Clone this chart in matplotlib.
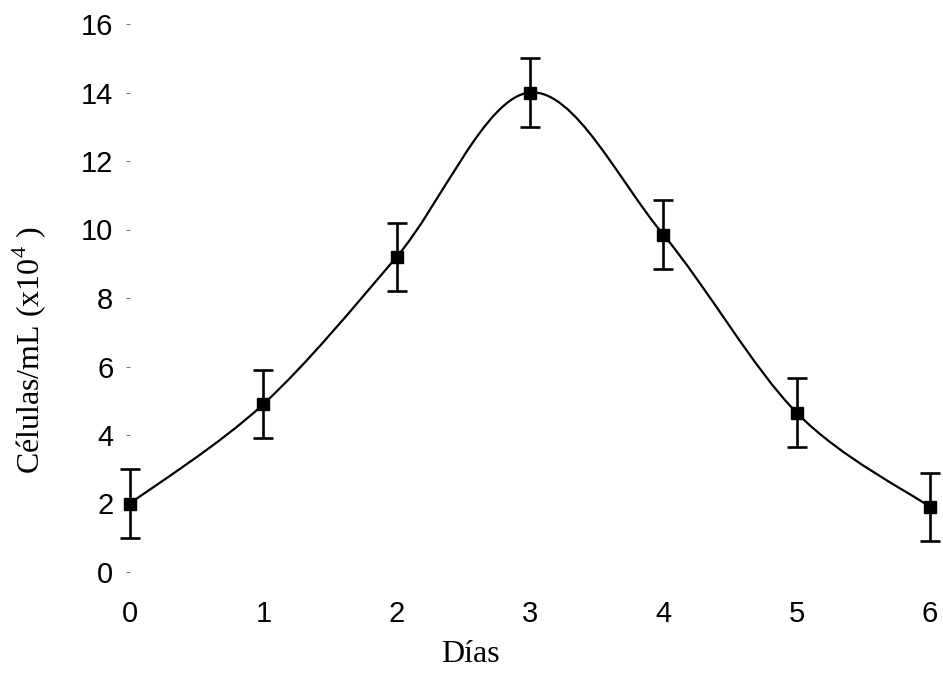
"""
Crecimiento celular por día
"""

import numpy as np
import matplotlib
matplotlib.use("Agg")
import matplotlib.pyplot as plt
from matplotlib.path import Path
from matplotlib.patches import PathPatch

# Data
DIAS = [0, 1, 2, 3, 4, 5, 6]
CELULAS = [2.0, 4.9, 9.2, 14.0, 9.85, 4.65, 1.9]
ERROR = [1.0, 1.0, 1.0, 1.0, 1.0, 1.0, 1.0]
Y_TICKS = [0, 2, 4, 6, 8, 10, 12, 14, 16]

plt.rcParams['mathtext.fontset'] = 'custom'
plt.rcParams['mathtext.rm'] = 'Liberation Serif'


def smooth_path(xs, ys):
    """Catmull-Rom curve through the points, as a bezier path"""
    xs = np.asarray(xs, float)
    ys = np.asarray(ys, float)
    n = len(xs)
    verts = [(xs[0], ys[0])]
    codes = [Path.MOVETO]
    for i in range(n - 1):
        i0 = max(i - 1, 0)
        i3 = min(i + 2, n - 1)
        c1 = (xs[i] + (xs[i + 1] - xs[i0]) / 6, ys[i] + (ys[i + 1] - ys[i0]) / 6)
        c2 = (xs[i + 1] - (xs[i3] - xs[i]) / 6, ys[i + 1] - (ys[i3] - ys[i]) / 6)
        verts += [c1, c2, (xs[i + 1], ys[i + 1])]
        codes += [Path.CURVE4] * 3
    return Path(verts, codes)


fig = plt.figure(figsize=(9.43, 6.75), dpi=100)
ax = fig.add_axes([130 / 943, 1 - 572 / 675, 800 / 943, 548 / 675])

ax.add_patch(PathPatch(smooth_path(DIAS, CELULAS), fill=False, lw=1.6,
                       edgecolor='black', zorder=2))
ax.errorbar(DIAS, CELULAS, yerr=ERROR, fmt='s', color='black', ms=8.5,
            elinewidth=1.9, capsize=7, capthick=1.9, clip_on=False, zorder=3)

ax.set_xlim(0, 6)
ax.set_ylim(0, 16)
ax.set_xticks(DIAS)
ax.set_yticks(Y_TICKS)
for s in ax.spines.values():
    s.set_visible(False)

ax.tick_params(axis='x', length=0, pad=20)
ax.tick_params(axis='y', length=3, width=0.6, color='#555555', pad=9)
for lab in ax.get_xticklabels() + ax.get_yticklabels():
    lab.set_fontfamily('Liberation Sans')
    lab.set_fontsize(21)

ax.set_xlabel('Días', family='Liberation Serif', fontsize=23)
ax.set_ylabel(r'Células/mL (x10$^{\mathregular{4}}$ )', family='Liberation Serif', fontsize=23)
ax.xaxis.set_label_coords(0.425, -0.125)
ax.yaxis.set_label_coords(-0.103, 0.405)

fig.savefig('out.png', dpi=100)
